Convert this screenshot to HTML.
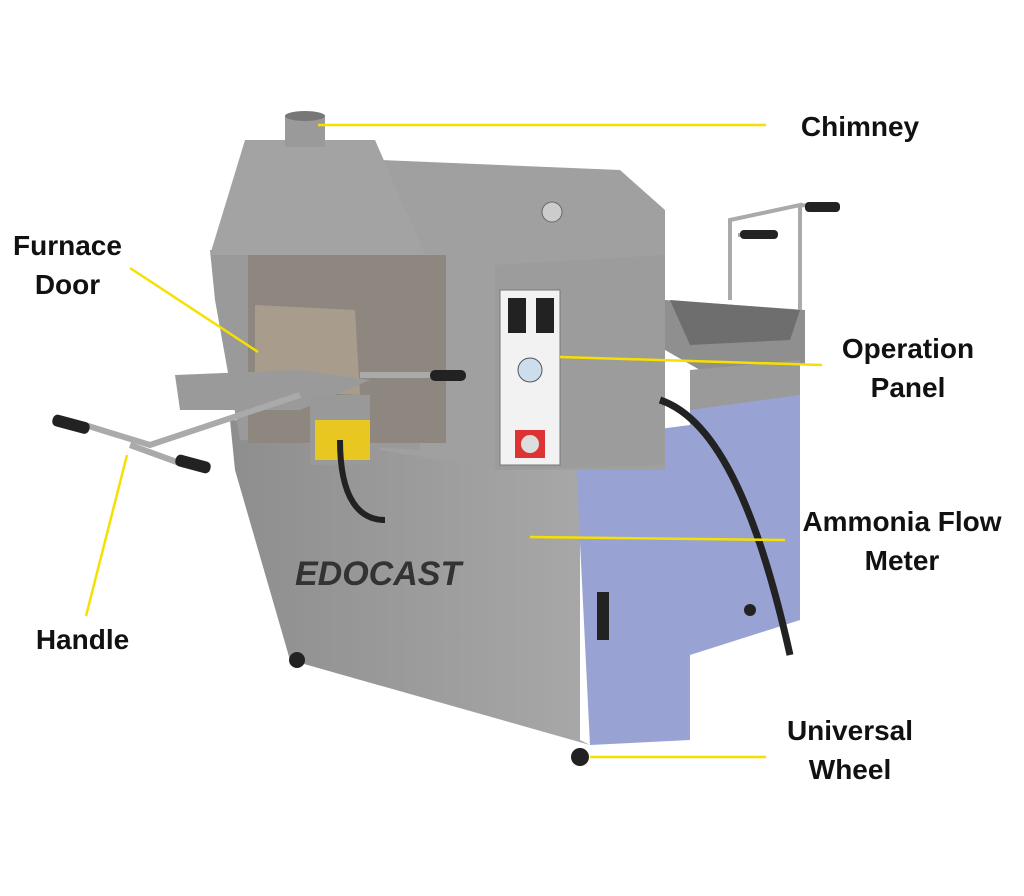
<!DOCTYPE html>
<html><head><meta charset="utf-8"><style>
html,body{margin:0;padding:0;background:#fff;}
.w{position:relative;width:1024px;height:896px;overflow:hidden;}
.l{position:absolute;font-family:"Liberation Sans",sans-serif;font-size:28px;font-weight:bold;color:#111;line-height:39px;text-align:center;}
</style></head><body><div class="w">
<svg width="1024" height="896" style="position:absolute;left:0;top:0">
<defs>
<linearGradient id="g1" x1="0" x2="1"><stop offset="0" stop-color="#8e8e8e"/><stop offset="1" stop-color="#a8a8a8"/></linearGradient>
</defs>
<polygon points="665,300 805,310 805,365 700,370 665,350" fill="#8f8f8f"/>
<polygon points="670,300 800,310 790,340 690,345" fill="#6e6e6e"/>
<path d="M730,300 L730,220 L800,205 L800,310 M738,235 L775,235 M800,205 L838,208" stroke="#aaa" stroke-width="4" fill="none"/>
<rect x="740" y="230" width="38" height="9" rx="4" fill="#222"/>
<rect x="805" y="202" width="35" height="10" rx="4" fill="#222"/>
<polygon points="690,405 800,390 800,620 690,655" fill="#98a3d3"/>
<polygon points="690,370 800,360 800,395 690,410" fill="#9a9a9a"/>
<polygon points="230,420 580,430 580,740 590,745 290,660 235,470" fill="url(#g1)"/>
<polygon points="575,440 690,425 690,740 590,745" fill="#98a3d3"/>
<rect x="597" y="592" width="12" height="48" fill="#222"/>
<polygon points="380,160 620,170 665,210 665,470 500,470 380,450" fill="#a0a0a0"/>
<polygon points="495,265 665,255 665,465 495,470" fill="#9c9c9c"/>
<rect x="500" y="290" width="60" height="175" fill="#f2f2f2" stroke="#777"/>
<rect x="508" y="298" width="18" height="35" fill="#222"/>
<rect x="536" y="298" width="18" height="35" fill="#222"/>
<circle cx="530" cy="370" r="12" fill="#cde" stroke="#555"/>
<rect x="515" y="430" width="30" height="28" fill="#d33"/>
<circle cx="530" cy="444" r="9" fill="#ddd"/>
<polygon points="210,250 420,250 420,450 240,440 215,300" fill="#9a9a9a"/>
<rect x="248" y="255" width="198" height="188" fill="#8d8780"/>
<polygon points="245,140 375,140 425,255 210,255" fill="#a3a3a3"/>
<rect x="285" y="115" width="40" height="32" fill="#9a9a9a"/>
<ellipse cx="305" cy="116" rx="20" ry="5" fill="#777"/>
<polygon points="255,305 355,310 360,395 255,390" fill="#a89c8c"/>
<polygon points="175,375 300,370 370,380 300,410 180,410" fill="#9a9a9a"/>
<rect x="310" y="395" width="60" height="70" fill="#999"/>
<rect x="315" y="420" width="55" height="40" fill="#e8c820"/>
<path d="M85,425 L150,445 L300,395 M130,445 L185,465 M360,375 L440,375" stroke="#aaa" stroke-width="6" fill="none"/>
<rect x="52" y="418" width="38" height="12" rx="5" fill="#222" transform="rotate(15 70 424)"/>
<rect x="175" y="458" width="36" height="12" rx="5" fill="#222" transform="rotate(15 193 464)"/>
<rect x="430" y="370" width="36" height="11" rx="5" fill="#222"/>
<path d="M660,400 C720,420 760,520 790,655" stroke="#222" stroke-width="7" fill="none"/>
<path d="M340,440 C340,500 360,520 385,520" stroke="#222" stroke-width="6" fill="none"/>
<text x="295" y="585" font-family="Liberation Sans" font-weight="bold" font-style="italic" font-size="34" fill="#333">EDOCAST</text>
<circle cx="297" cy="660" r="8" fill="#222"/>
<circle cx="580" cy="757" r="9" fill="#222"/>
<circle cx="750" cy="610" r="6" fill="#222"/>
<circle cx="552" cy="212" r="10" fill="#ccc" stroke="#666"/>
<g stroke="#f5e000" stroke-width="2.5" fill="none">
<line x1="318" y1="125" x2="766" y2="125"/>
<line x1="130" y1="268" x2="258" y2="352"/>
<line x1="560" y1="357" x2="822" y2="365"/>
<line x1="530" y1="537" x2="785" y2="540"/>
<line x1="127" y1="455" x2="86" y2="616"/>
<line x1="590" y1="757" x2="766" y2="757"/>
</g>
</svg>
<div class="l" style="left:785px;top:107px;width:150px">Chimney</div>
<div class="l" style="left:0;top:226px;width:135px">Furnace<br>Door</div>
<div class="l" style="left:820px;top:329px;width:176px">Operation<br>Panel</div>
<div class="l" style="left:780px;top:502px;width:244px">Ammonia Flow<br>Meter</div>
<div class="l" style="left:20px;top:620px;width:125px">Handle</div>
<div class="l" style="left:768px;top:711px;width:164px">Universal<br>Wheel</div>
</div></body></html>
